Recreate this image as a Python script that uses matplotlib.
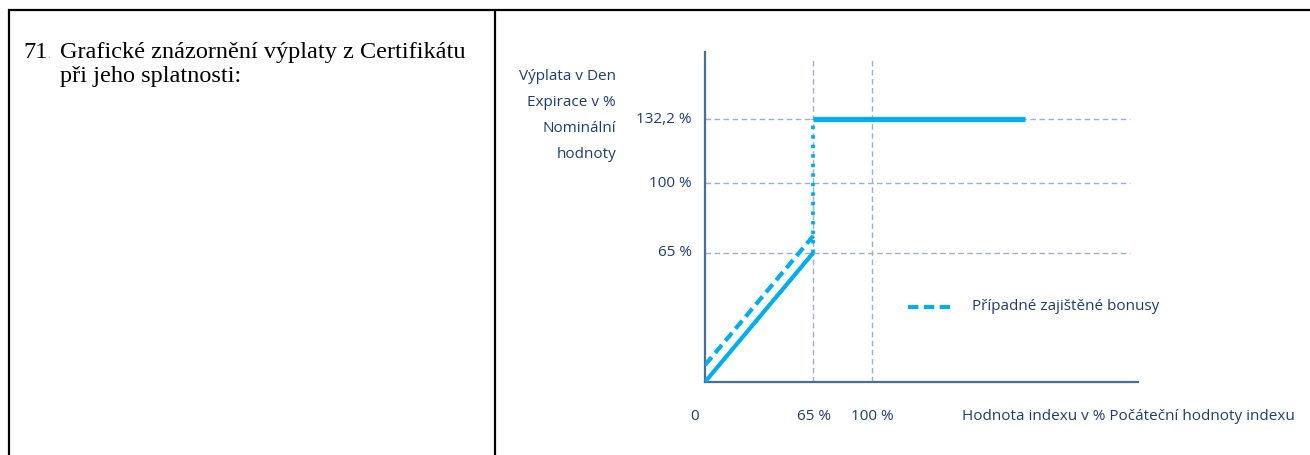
import matplotlib
matplotlib.use("Agg")
import matplotlib.pyplot as plt

# ---- data ----
x_ticks = [0, 65, 100]
x_tick_labels = ["0", "65 %", "100 %"]
y_ticks = [65, 100, 132.2]
y_tick_labels = ["65 %", "100 %", "132,2 %"]
payoff_x = [0, 65]
payoff_y = [0, 65]
bonus_x = [0, 65]
bonus_y = [8.5, 73.5]
jump_x = [65, 65]
jump_y = [65, 132.2]
cap_x = [65, 192]
cap_y = [132.2, 132.2]
legend_label = "Případné zajištěné bonusy"
x_title = "Hodnota indexu v % Počáteční hodnoty indexu"
y_title = ["Výplata v Den", "Expirace v %", "Nominální", "hodnoty"]
left_text = ["Grafické znázornění výplaty z Certifikátu", "při jeho splatnosti:"]

W, H = 1310, 455
CYAN = "#00aeef"
NAVY = "#1c3d6e"
SPINE = "#44709a"
GRID = "#9eb0c9"
SANS = ["Open Sans", "DejaVu Sans"]
SERIF = ["Liberation Serif", "DejaVu Serif"]

fig = plt.figure(figsize=(W / 100, H / 100), dpi=100)
fig.patch.set_facecolor("white")

# overlay in pixel coordinates
ov = fig.add_axes([0, 0, 1, 1])
ov.set_xlim(0, W)
ov.set_ylim(H, 0)
ov.axis("off")
ov.plot([9, 9], [9, H + 5], color="black", lw=1.6, solid_capstyle="butt")
ov.plot([8, W + 5], [10, 10], color="black", lw=1.6, solid_capstyle="butt")
ov.plot([494.5, 494.5], [10, H + 5], color="black", lw=1.6, solid_capstyle="butt")
ov.text(23, 58, "71", family=SERIF, fontsize=17.5, color="black", va="baseline")
ov.text(47, 58, ".", family=SERIF, fontsize=8, color="#aaaaaa", va="baseline")
for i, line in enumerate(left_text):
    ov.text(60, 58 + i * 24, line, family=SERIF, fontsize=17.5, color="black", va="baseline")

for i, line in enumerate(y_title):
    ov.text(616, 77 + i * 25.7, line, family=SANS, fontsize=11, color=NAVY,
            ha="right", va="center")

# chart axes: x 705..1138 px -> 0..260, y 382..52 px -> 0..166
ax = fig.add_axes([705 / W, (H - 382) / H, (1138 - 705) / W, (382 - 52) / H])
ax.set_xlim(0, 260)
ax.set_ylim(0, 166)
ax.patch.set_alpha(0)
for s in ["top", "right"]:
    ax.spines[s].set_visible(False)
for s in ["left", "bottom"]:
    ax.spines[s].set_color(SPINE)
    ax.spines[s].set_linewidth(1.6)
ax.set_xticks([])
ax.set_yticks([])

for yv in y_ticks:
    ax.plot([0, 255], [yv, yv], color=GRID, lw=1.0, ls=(0, (4, 2.5)), zorder=1)
for xv in x_ticks[1:]:
    ax.plot([xv, xv], [0, 163], color=GRID, lw=1.0, ls=(0, (4, 2.5)), zorder=1)

ax.plot(payoff_x, payoff_y, color=CYAN, lw=3.0, solid_capstyle="butt", zorder=3)
ax.plot(bonus_x, bonus_y, color=CYAN, lw=3.0, ls=(0, (2.5, 1.3)), zorder=3)
ax.plot(jump_x, jump_y, color=CYAN, lw=2.8, ls=(0, (0.9, 1.55)), zorder=3)
ax.plot(cap_x, cap_y, color=CYAN, lw=3.8, solid_capstyle="butt", zorder=3)

# tick labels
for xv, lab in zip(x_ticks, x_tick_labels):
    off = -10 if xv == 0 else 1
    ax.annotate(lab, xy=(xv, 0), xycoords="data", xytext=(off, -34),
                textcoords="offset pixels", ha="center", va="center",
                family=SANS, fontsize=11, color=NAVY)
for yv, lab in zip(y_ticks, y_tick_labels):
    ax.annotate(lab, xy=(0, yv), xycoords="data", xytext=(-13, 0),
                textcoords="offset pixels", ha="right", va="center",
                family=SANS, fontsize=11, color=NAVY)

ov.text(962, 416, x_title, family=SANS, fontsize=11, color=NAVY, ha="left", va="center")

# legend
ov.plot([908, 950], [307, 307], color=CYAN, lw=3.0, ls=(0, (2.5, 1.3)))
ov.text(972, 307, legend_label, family=SANS, fontsize=11, color=NAVY, ha="left", va="center")

fig.savefig("out.png", dpi=100, facecolor="white")
